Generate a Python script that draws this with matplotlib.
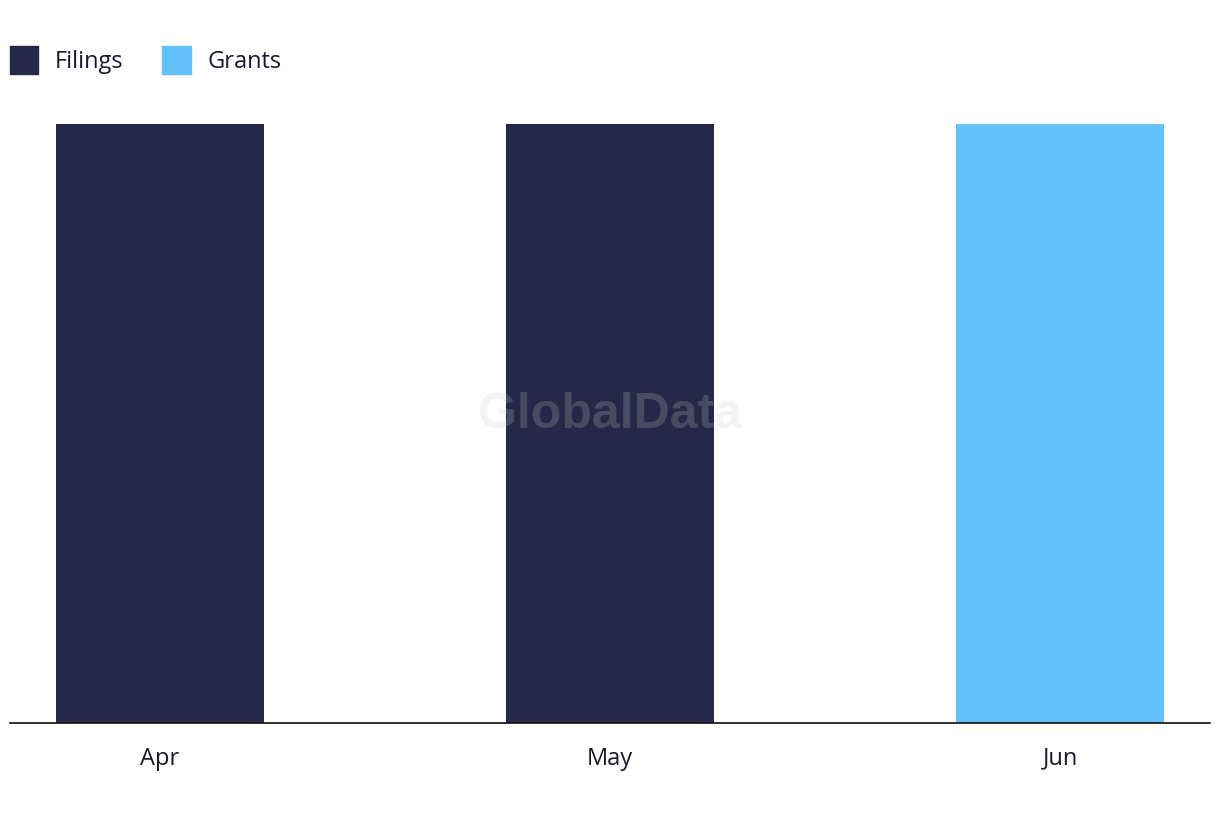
import matplotlib
matplotlib.use("Agg")
import matplotlib.pyplot as plt
from matplotlib.patches import Patch

months = ["Apr", "May", "Jun"]
filings = [1, 1, 0]
grants = [0, 0, 1]

FILING_COLOR = "#272849"
GRANT_COLOR = "#62c2f9"
TEXT_COLOR = "#1a1a2e"

plt.rcParams["font.family"] = ["Open Sans", "DejaVu Sans"]

fig = plt.figure(figsize=(12.2, 8.22), dpi=100)
ax = fig.add_axes([10 / 1220, 99 / 822, 1200 / 1220, 599 / 822])

x = list(range(len(months)))
ax.bar(x, filings, width=0.462, color=FILING_COLOR, label="Filings")
ax.bar(x, grants, width=0.462, bottom=filings, color=GRANT_COLOR, label="Grants")

ax.set_xlim(-0.333, len(months) - 1 + 0.333)
ax.set_ylim(0, max(f + g for f, g in zip(filings, grants)))
ax.set_xticks(x)
ax.set_xticklabels(months, fontsize=17, color=TEXT_COLOR)
ax.tick_params(axis="x", length=0, pad=17)
ax.set_yticks([])
for side in ["top", "right", "left"]:
    ax.spines[side].set_visible(False)
ax.spines["bottom"].set_color("#111111")
ax.spines["bottom"].set_linewidth(1.2)

# watermark
ax.text(0.5, 0.514, "GlobalData", transform=ax.transAxes, ha="center", va="center",
        fontsize=36, fontweight="bold", color="#cbcbcb", alpha=0.21,
        family=["Liberation Sans", "DejaVu Sans"], zorder=5)

handles = [Patch(color=FILING_COLOR, label="Filings"), Patch(color=GRANT_COLOR, label="Grants")]
fig.legend(handles=handles, loc="upper left", bbox_to_anchor=(10 / 1220, 1 - 46 / 822),
           ncol=2, frameon=False, borderpad=0, borderaxespad=0, fontsize=17,
           handlelength=1.2, handleheight=1.45, handletextpad=0.7, columnspacing=1.65,
           labelcolor=TEXT_COLOR)

fig.savefig("out.png", dpi=100)
